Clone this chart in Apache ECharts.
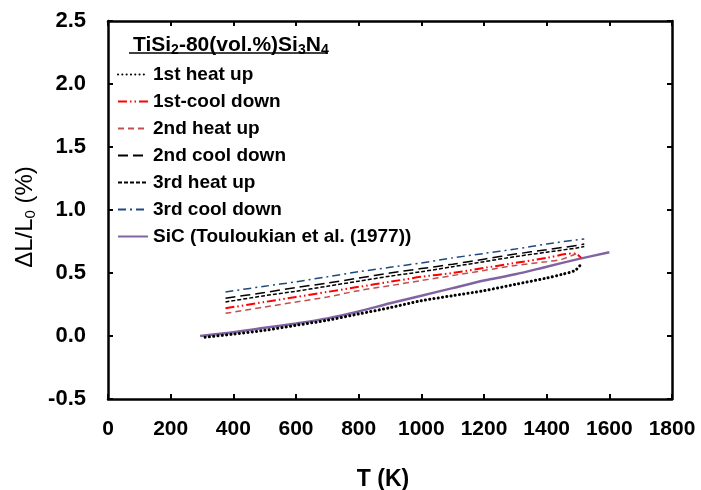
<!DOCTYPE html>
<html>
<head>
<meta charset="utf-8">
<script src="https://cdn.jsdelivr.net/npm/echarts@6/dist/echarts.min.js"></script>
<style>html,body{margin:0;padding:0;background:#fff}#c{width:701px;height:490px}</style>
</head>
<body>
<div id="c"></div>
<script>
// Series names (legend order)
const seriesNames = ['1st heat up','1st-cool down','2nd heat up','2nd cool down','3rd heat up','3rd cool down','SiC (Touloukian et al. (1977))'];

// 1st heat up
const T_heat1 = [310,400,500,600,700,800,900,1000,1100,1200,1300,1400,1450,1490,1510];
const V_heat1 = [-0.01,0.015,0.045,0.085,0.125,0.175,0.225,0.28,0.32,0.36,0.41,0.46,0.49,0.52,0.57];
// 1st cool down
const T_cool1 = [375,500,600,700,800,900,1000,1100,1200,1300,1400,1460,1490,1510];
const V_cool1 = [0.22,0.27,0.31,0.35,0.39,0.43,0.47,0.50,0.54,0.58,0.62,0.65,0.655,0.62];
// 2nd heat up
const T_heat2 = [375,500,600,700,800,900,1000,1100,1200,1300,1400,1450,1500];
const V_heat2 = [0.18,0.23,0.27,0.31,0.36,0.40,0.44,0.48,0.52,0.56,0.59,0.61,0.66];
// 2nd cool down
const T_cool2 = [375,500,600,700,800,900,1000,1100,1200,1300,1400,1500,1520];
const V_cool2 = [0.30,0.345,0.385,0.42,0.46,0.50,0.535,0.57,0.61,0.65,0.685,0.72,0.73];
// 3rd heat up
const T_heat3 = [375,500,600,700,800,900,1000,1100,1200,1300,1400,1500,1520];
const V_heat3 = [0.27,0.32,0.355,0.395,0.435,0.475,0.51,0.55,0.59,0.63,0.665,0.70,0.71];
// 3rd cool down
const T_cool3 = [375,500,600,700,800,900,1000,1100,1200,1300,1400,1500,1520];
const V_cool3 = [0.35,0.395,0.43,0.47,0.51,0.545,0.58,0.62,0.655,0.69,0.73,0.765,0.77];
// SiC reference
const T_sic = [294,400,500,600,700,800,900,1000,1100,1200,1300,1400,1500,1600];
const V_sic = [0,0.03,0.065,0.10,0.14,0.195,0.26,0.32,0.38,0.44,0.49,0.55,0.61,0.665];

// Axis ticks
const xTicks = [0,200,400,600,800,1000,1200,1400,1600,1800];
const yTicks = [-0.5,0,0.5,1.0,1.5,2.0,2.5];

const zip = (t, v) => t.map((x, i) => [x, v[i]]);

const FONT = '"Liberation Sans", Arial, sans-serif';
const chart = echarts.init(document.getElementById('c'), null, {renderer: 'canvas'});

const styles = [
  {color:'#000000', width:3, type:[0.1,4.2], cap:'round'},
  {color:'#FF0000', width:2, type:[9,3,1.5,3,1.5,3]},
  {color:'#C0504D', width:1.5, type:[6,4]},
  {color:'#000000', width:1.5, type:[10,5]},
  {color:'#000000', width:1.5, type:[4,2]},
  {color:'#1F497D', width:1.5, type:[8,4,2,4]},
  {color:'#8064A2', width:2.5, type:'solid'}
];
const dataSets = [
  zip(T_heat1,V_heat1), zip(T_cool1,V_cool1), zip(T_heat2,V_heat2),
  zip(T_cool2,V_cool2), zip(T_heat3,V_heat3), zip(T_cool3,V_cool3), zip(T_sic,V_sic)
];

const axisLine = {show:true, onZero:false, lineStyle:{color:'#000', width:2.5}};
const tickStyle = {show:true, inside:true, length:5, lineStyle:{color:'#000', width:2}};

chart.setOption({
  animation:false,
  backgroundColor:'#fff',
  title:{
    text:'{n|TiSi}{s|2}{n|-80(vol.%)Si}{s|3}{n|N}{s|4}',
    left:128, top:28,
    textStyle:{
      rich:{
        n:{fontFamily:FONT, fontWeight:'bold', fontSize:21, color:'#000'},
        s:{fontFamily:FONT, fontWeight:'bold', fontSize:14, color:'#000', padding:[10,0,0,0]}
      }
    }
  },
  graphic:[{
    type:'line', shape:{x1:129, y1:53, x2:328, y2:53},
    style:{stroke:'#000', lineWidth:1.5}
  }],
  legend:{
    orient:'vertical', left:117, top:65, padding:0,
    itemWidth:30, itemHeight:14, itemGap:8,
    data:seriesNames,
    itemStyle:{opacity:0},
    textStyle:{fontFamily:FONT, fontWeight:'bold', fontSize:19, color:'#000'}
  },
  grid:{left:108, top:21, width:564, height:378, containLabel:false, outerBoundsMode:'none'},
  xAxis:[{
    type:'value', min:0, max:1800, interval:200, position:'bottom',
    name:'T (K)', nameLocation:'middle', nameGap:69,
    nameTextStyle:{fontFamily:FONT, fontWeight:'bold', fontSize:23, color:'#000', padding:[0,14,0,0]},
    axisLine:axisLine, axisTick:tickStyle,
    axisLabel:{margin:20, fontFamily:FONT, fontWeight:'bold', fontSize:21, color:'#000',
      formatter:v => xTicks.includes(v) ? String(v) : ''},
    splitLine:{show:false}
  },{
    type:'value', min:0, max:1800, interval:200, position:'top',
    axisLine:axisLine, axisTick:tickStyle, axisLabel:{show:false}, splitLine:{show:false}
  }],
  yAxis:[{
    type:'value', min:-0.5, max:2.5, interval:0.5, position:'left',
    name:'{n|ΔL/L}{s|0}{n| (%)}', nameLocation:'middle', nameGap:70, nameMoveOverlap:false,
    nameTextStyle:{
      padding:[0,14,0,0],
      rich:{
        n:{fontFamily:FONT, fontSize:24, color:'#000'},
        s:{fontFamily:FONT, fontSize:15, color:'#000', padding:[11,0,0,0]}
      }
    },
    axisLine:axisLine, axisTick:tickStyle,
    axisLabel:{margin:22, fontFamily:FONT, fontWeight:'bold', fontSize:22, color:'#000',
      formatter:v => yTicks.some(t => Math.abs(t - v) < 1e-9) ? v.toFixed(1) : ''},
    splitLine:{show:false}
  },{
    type:'value', min:-0.5, max:2.5, interval:0.5, position:'right',
    axisLine:axisLine, axisTick:tickStyle, axisLabel:{show:false}, splitLine:{show:false}
  }],
  series: seriesNames.map((name, i) => ({
    name, type:'line', xAxisIndex:0, yAxisIndex:0,
    data:dataSets[i], symbol:'none', smooth:0.3,
    lineStyle:styles[i], itemStyle:{color:styles[i].color},
    z: i === 6 ? 1 : 2
  }))
});
</script>
</body>
</html>
